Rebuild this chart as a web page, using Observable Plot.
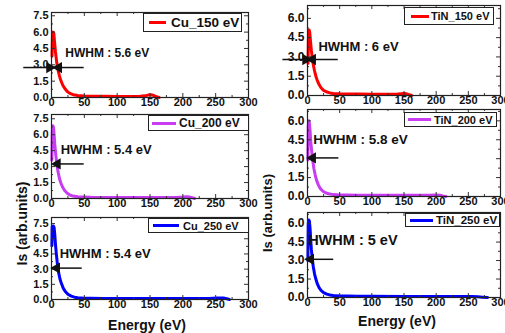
<!DOCTYPE html>
<html><head><meta charset="utf-8">
<script src="https://cdn.jsdelivr.net/npm/d3@7"></script>
<script src="https://cdn.jsdelivr.net/npm/@observablehq/plot@0.6"></script>
<style>
body{margin:0;background:#fff;}
#c{position:relative;width:505px;height:333px;overflow:hidden;font-family:"Liberation Sans",Arial,sans-serif;color:#111;}
#c svg{position:absolute;}
.lg{position:absolute;border:1px solid #222;background:#fff;box-sizing:border-box;font-weight:bold;white-space:nowrap;}
.lg i{position:absolute;height:3px;top:50%;margin-top:-1.5px;}
.lg b{position:absolute;top:0;bottom:0;display:flex;align-items:center;}
</style></head><body><div id="c"></div>
<script>
// ---- data ----
const xTicks = [0, 50, 100, 150, 200, 250, 300];
const xMinor = [25, 75, 125, 175, 225, 275];
const yTicksCu = [0, 1.5, 3.0, 4.5, 6.0, 7.5];
const yTicksTiN = [0, 1.5, 3.0, 4.5, 6.0];

const cu150X = [0.8,1.5,2.5,3.5,4.5,6,8,10,12,14,17,20,24,28,33,40,50,60,80,100,120,135,142,147,151,155,158,161,164];
const cu150Y = [3.8,5.6,6.0,5.9,5.2,4.2,3.2,2.5,2.0,1.6,1.15,0.85,0.55,0.38,0.26,0.18,0.14,0.12,0.11,0.1,0.1,0.11,0.15,0.22,0.25,0.2,0.12,0.05,0.0];

const cu200X = [0.6,1.2,2,3,4,5,6.5,8,10,12,14,17,20,24,28,33,40,50,60,80,100,130,160,190,200,205,210,214,218];
const cu200Y = [3.6,6.2,6.85,6.7,6.0,5.1,4.1,3.3,2.5,1.9,1.5,1.05,0.75,0.5,0.33,0.23,0.16,0.13,0.11,0.1,0.09,0.09,0.09,0.1,0.14,0.17,0.15,0.08,0.0];

const cu250X = [0.6,1,2,3,4,5,6,7.5,9,11,13,15,18,21,25,30,35,40,50,60,80,100,150,200,240,252,258,263,267,271];
const cu250Y = [5.3,7.2,7.25,7.25,7.1,6.4,5.5,4.4,3.5,2.6,2.0,1.6,1.1,0.8,0.52,0.33,0.23,0.18,0.13,0.12,0.1,0.1,0.09,0.09,0.1,0.14,0.16,0.14,0.07,0.0];

const tin150X = [0.8,1.5,2.5,3.5,4.5,6,7.5,9,11,13,15,18,21,25,30,35,40,50,60,80,100,120,140,146,150,154,158,162];
const tin150Y = [2.5,4.6,5.1,4.9,4.3,3.5,2.9,2.4,1.9,1.5,1.2,0.85,0.6,0.4,0.27,0.2,0.16,0.13,0.12,0.11,0.1,0.1,0.11,0.14,0.16,0.13,0.06,0.0];

const tin200X = [0.6,1.2,2,3,4,5,6.5,8,10,12,14,17,20,24,28,33,40,50,60,80,100,130,160,190,200,206,210,215];
const tin200Y = [2.9,5.6,6.0,5.8,5.2,4.4,3.6,2.9,2.2,1.7,1.3,0.9,0.62,0.42,0.3,0.21,0.15,0.12,0.11,0.1,0.09,0.09,0.09,0.1,0.12,0.1,0.05,0.0];

const tin250X = [0.6,1.2,2,3,4,5,6,7.5,9,11,13,15,18,21,25,30,35,40,50,60,80,100,150,200,240,255,265,272,280];
const tin250Y = [3.0,6.0,6.3,6.2,5.6,4.7,3.9,3.1,2.5,1.9,1.5,1.15,0.8,0.58,0.4,0.27,0.2,0.16,0.13,0.12,0.1,0.1,0.09,0.09,0.09,0.09,0.06,0.03,0.0];

const seriesNames = ["Cu_150 eV","TiN_150 eV","Cu_200 eV","TiN_200 eV","Cu_250 eV","TiN_250 eV"];
const hwhmLabels = ["HWHM : 5.6 eV","HWHM : 6 eV","HWHM : 5.4 eV","HWHM : 5.8 eV","HWHM : 5.4 eV","HWHM : 5 eV"];
const xLabel = "Energy (eV)";
const yLabel = "Is (arb.units)";

// ---- layout ----
const red = "#ff0000", violet = "#c83cf2", blue = "#0000ff";
const panels = [
  {xs:cu150X, ys:cu150Y, color:red, L:51, R:248, T:12, B:97, ymax:7.8, yt:yTicksCu, yfs:11,
   lg:[143,13,99,19,5,17,170,13.5],
   txt:{x:21, y:4.1, fs:12},
   arrows:[{x1:-43,x2:-3,y:2.75,dir:1},{x1:49,x2:11,y:2.75,dir:-1}]},
  {xs:tin150X, ys:tin150Y, color:red, L:307, R:500, T:5, B:95, ymax:7.0, yt:yTicksTiN, yfs:12,
   lg:[404,7,90,18,6,18,430,11],
   txt:{x:17, y:3.75, fs:13},
   arrows:[{x1:-39,x2:-3,y:2.8,dir:1},{x1:47,x2:8,y:2.8,dir:-1}]},
  {xs:cu200X, ys:cu200Y, color:violet, L:51, R:248, T:114, B:198, ymax:7.9, yt:yTicksCu, yfs:11,
   lg:[148,115,101,16,3,24,178,12],
   txt:{x:14, y:4.6, fs:13},
   arrows:[{x1:49,x2:9,y:3.25,dir:-1}]},
  {xs:tin200X, ys:tin200Y, color:violet, L:307, R:500, T:109, B:196, ymax:6.9, yt:yTicksTiN, yfs:12,
   lg:[404,112,93,15,3,23,433,11],
   txt:{x:9, y:4.5, fs:13.5},
   arrows:[{x1:48,x2:8,y:3.06,dir:-1}]},
  {xs:cu250X, ys:cu250Y, color:blue, L:51, R:248, T:217, B:299, ymax:8.1, yt:yTicksCu, yfs:11,
   lg:[148,218,101,15,4,26,182,11],
   txt:{x:12.5, y:4.5, fs:13},
   arrows:[{x1:46,x2:8,y:3.1,dir:-1}], bottom:{dx:-3, dy:26, ydx:-29, ydy:7, yfs:14}},
  {xs:tin250X, ys:tin250Y, color:blue, L:307, R:500, T:212, B:297, ymax:6.9, yt:yTicksTiN, yfs:12,
   lg:[405,213,95,14,4,23,435,11.5],
   txt:{x:1, y:4.6, fs:14.5},
   arrows:[{x1:40,x2:5,y:3.1,dir:-1}], bottom:{dx:-7, dy:24, ydx:-40, ydy:-3, yfs:13}}
];

const root = document.getElementById("c");
const font = "'Liberation Sans', Arial, sans-serif";

panels.forEach((p, i) => {
  const ml = 55, mr = 10, mt = 6, mb = 40;
  const fw = p.R - p.L, fh = p.B - p.T;
  const data = p.xs.map((x, k) => ({x, y: p.ys[k]}));
  const ky = p.ymax / fh, kx = 300 / fw;
  const yMinor = p.yt.slice(0, -1).map(v => v + 0.75).concat([p.yt[p.yt.length-1] + 0.75]).filter(v => v < p.ymax);
  const tickColor = "#333";
  const marks = [
    Plot.line(data, {x: "x", y: "y", stroke: p.color, strokeWidth: 3, strokeLinejoin: "round"}),
    // inward ticks
    Plot.ruleX(xTicks, {x: d => d, y1: 0, y2: 4 * ky, stroke: tickColor, strokeWidth: 1}),
    Plot.ruleX(xTicks, {x: d => d, y1: p.ymax, y2: p.ymax - 4 * ky, stroke: tickColor, strokeWidth: 1}),
    Plot.ruleX(xMinor, {x: d => d, y1: 0, y2: 2 * ky, stroke: tickColor, strokeWidth: 1}),
    Plot.ruleX(xMinor, {x: d => d, y1: p.ymax, y2: p.ymax - 2 * ky, stroke: tickColor, strokeWidth: 1}),
    Plot.ruleY(p.yt, {y: d => d, x1: 0, x2: 4 * kx, stroke: tickColor, strokeWidth: 1}),
    Plot.ruleY(p.yt, {y: d => d, x1: 300, x2: 300 - 4 * kx, stroke: tickColor, strokeWidth: 1}),
    Plot.ruleY(yMinor, {y: d => d, x1: 0, x2: 2 * kx, stroke: tickColor, strokeWidth: 1}),
    Plot.ruleY(yMinor, {y: d => d, x1: 300, x2: 300 - 2 * kx, stroke: tickColor, strokeWidth: 1}),
    Plot.axisX({ticks: xTicks, tickSize: 0, tickPadding: 1, fontSize: 11, fontWeight: "bold", label: null, tickFormat: d => String(d)}),
    Plot.axisY({ticks: p.yt, tickSize: 0, tickPadding: 3, fontSize: p.yfs, fontWeight: "bold", label: null, tickFormat: d => d.toFixed(1)}),
    Plot.frame({stroke: "#222", strokeWidth: 1.2}),
    Plot.text([hwhmLabels[i]], {x: p.txt.x, y: p.txt.y, text: d => d, textAnchor: "start", lineAnchor: "middle", fontSize: p.txt.fs, fontWeight: "bold", fill: "#111"}),
    Plot.link(p.arrows, {x1: "x1", x2: d => d.x2 - d.dir * 4, y1: "y", y2: "y", stroke: "#111", strokeWidth: 1.5}),
    Plot.dot(p.arrows, {x: "x2", y: "y", symbol: "triangle", rotate: d => d.dir * 90, r: 4.2, fill: "#111", stroke: "none"})
  ];
  if (p.bottom) {
    marks.push(Plot.text([xLabel], {frameAnchor: "bottom", dx: p.bottom.dx, dy: p.bottom.dy, text: d => d, fontSize: 14, fontWeight: "bold", lineAnchor: "middle", fill: "#111"}));
    marks.push(Plot.text([yLabel], {frameAnchor: "left", dx: p.bottom.ydx, dy: p.bottom.ydy, rotate: -90, text: d => d, fontSize: p.bottom.yfs, fontWeight: "bold", lineAnchor: "middle", fill: "#111"}));
  }
  const svg = Plot.plot({
    width: fw + ml + mr, height: fh + mt + mb,
    marginLeft: ml, marginRight: mr, marginTop: mt, marginBottom: mb,
    x: {domain: [0, 300]},
    y: {domain: [0, p.ymax]},
    clip: false,
    style: {background: "transparent", overflow: "visible", fontFamily: font, color: "#111"},
    marks
  });
  svg.style.left = (p.L - ml) + "px";
  svg.style.top = (p.T - mt) + "px";
  root.appendChild(svg);

  // legend box
  const [lx, ly, lw, lh, lineL, lineW, tx, tfs] = p.lg;
  const d = document.createElement("div");
  d.className = "lg";
  d.style.cssText = `left:${lx}px;top:${ly}px;width:${lw}px;height:${lh}px;font-size:${tfs}px;`;
  d.innerHTML = `<i style="left:${lineL}px;width:${lineW}px;background:${p.color}"></i><b style="left:${tx - lx}px">${seriesNames[i]}</b>`;
  root.appendChild(d);
});
</script></body></html>
